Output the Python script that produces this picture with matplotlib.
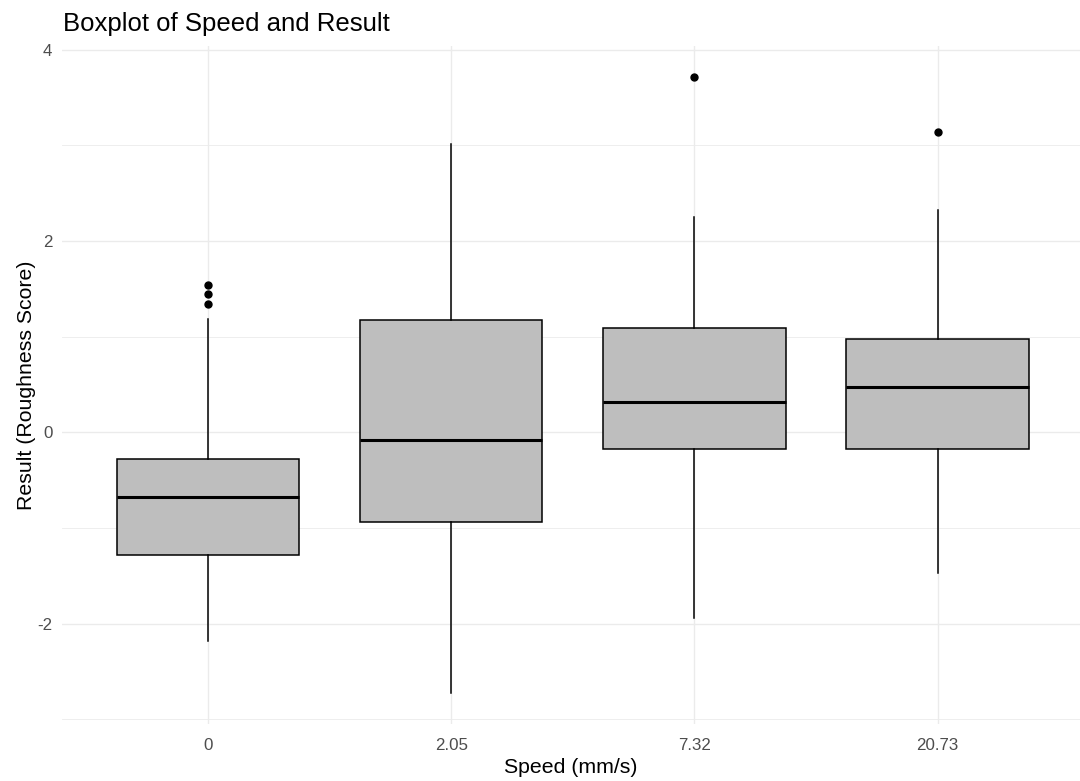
import numpy as np
import matplotlib
matplotlib.use('Agg')
import matplotlib.pyplot as plt

plt.rcParams['font.family'] = ['Liberation Sans', 'DejaVu Sans']
plt.rcParams['axes.unicode_minus'] = False

# speed groups and box summaries for the roughness score
speeds = ['0', '2.05', '7.32', '20.73']
lower_whisker = [-2.18, -2.73, -1.94, -1.47]
q1 = [-1.28, -0.94, -0.17, -0.17]
median = [-0.68, -0.08, 0.32, 0.47]
q3 = [-0.28, 1.17, 1.09, 0.98]
upper_whisker = [1.19, 3.02, 2.25, 2.33]
outliers = [[1.54, 1.45, 1.34], [], [3.72], [3.14]]

stats = []
for i, name in enumerate(speeds):
	stats.append(dict(label=name, whislo=lower_whisker[i], q1=q1[i], med=median[i],
		q3=q3[i], whishi=upper_whisker[i], fliers=outliers[i]))

W, H = 1080, 781
fig = plt.figure(figsize=(W/100.0, H/100.0), dpi=100)
ax = fig.add_axes([62.0/W, (H-724.0)/H, 1.0-62.0/W, 678.0/H])

pos = np.arange(1, len(speeds)+1)
ax.bxp(stats, positions=pos, widths=0.75, patch_artist=True, showcaps=False,
	boxprops=dict(facecolor='#BEBEBE', edgecolor='black', linewidth=1.1),
	medianprops=dict(color='black', linewidth=2.2, solid_capstyle='butt'),
	whiskerprops=dict(color='black', linewidth=1.1),
	flierprops=dict(marker='o', markerfacecolor='black', markeredgecolor='black', markersize=5))

ax.set_xlim(0.4, 4.585)
ax.set_ylim(-3.05, 4.04)
ax.set_yticks([-2, 0, 2, 4])
ax.set_yticks([-3, -1, 1, 3], minor=True)
ax.set_xticks(pos)
ax.set_xticklabels(speeds)

# minimal theme: light grid, no frame, no ticks
ax.grid(which='major', color='#EBEBEB', linewidth=1.0)
ax.grid(which='minor', axis='y', color='#EBEBEB', linewidth=0.6)
ax.set_axisbelow(True)
for s in ax.spines.values():
	s.set_visible(False)
ax.tick_params(which='both', length=0)
ax.tick_params(axis='y', pad=7, labelsize=12.2, labelcolor='#4D4D4D')
ax.tick_params(axis='x', pad=10, labelsize=12.2, labelcolor='#4D4D4D')

ax.set_xlabel('Speed (mm/s)', fontsize=15.3, labelpad=4)
ax.set_ylabel('Result (Roughness Score)', fontsize=15.3, labelpad=1)
fig.text(63.0/W, 1 - 31.0/H, 'Boxplot of Speed and Result', fontsize=18.5, ha='left', va='baseline')

fig.savefig('out.png', dpi=100)
